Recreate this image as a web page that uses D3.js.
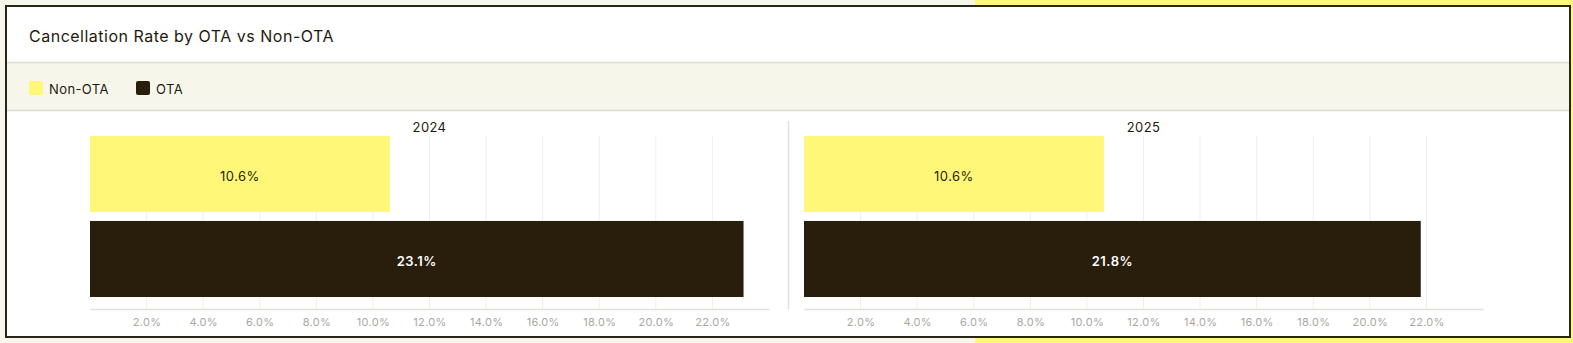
<!DOCTYPE html>
<html>
<head>
<meta charset="utf-8">
<script src="https://cdn.jsdelivr.net/npm/d3@7"></script>
<style>
  html, body { margin: 0; padding: 0; }
  body {
    width: 1573px; height: 343px; overflow: hidden;
    background: linear-gradient(to right, #f7f6ec 0, #f7f6ec 975px, #fff778 975px);
    font-family: Inter, "Noto Sans", sans-serif;
  }
  #chart { position: absolute; left: 0; top: 0; }
</style>
</head>
<body>
<div id="chart"></div>
<script>
const title = 'Cancellation Rate by OTA vs Non-OTA';
const years = ['2024', '2025'];
const categories = ['Non-OTA', 'OTA'];
const nonOtaRates = [10.6, 10.6];
const otaRates = [23.1, 21.8];
const xTicks = [2, 4, 6, 8, 10, 12, 14, 16, 18, 20, 22];

const colors = {
    'Non-OTA': '#fff778',
    'OTA': '#291e0c'
};
const labelColors = {
    'Non-OTA': '#291e0c',
    'OTA': '#ffffff'
};

const width = 1573;
const height = 343;

const svg = d3.select('#chart')
    .append('svg')
    .attr('width', width)
    .attr('height', height);

// card
svg.append('rect')
    .attr('x', 6).attr('y', 6)
    .attr('width', 1564).attr('height', 331)
    .attr('fill', '#ffffff')
    .attr('stroke', '#2a2416')
    .attr('stroke-width', 2);

// legend band
svg.append('rect')
    .attr('x', 7).attr('y', 62)
    .attr('width', 1562).attr('height', 48)
    .attr('fill', '#f7f6ea');
svg.append('line')
    .attr('x1', 7).attr('x2', 1569).attr('y1', 62.5).attr('y2', 62.5)
    .attr('stroke', '#dedcd3').attr('stroke-width', 1.5);
svg.append('line')
    .attr('x1', 7).attr('x2', 1569).attr('y1', 110.5).attr('y2', 110.5)
    .attr('stroke', '#dedcd3').attr('stroke-width', 1.5);

svg.append('text')
    .attr('x', 29).attr('y', 42)
    .style('font-size', '16px')
    .style('letter-spacing', '0.5px')
    .style('fill', '#1f1a10')
    .text(title);

const legend = svg.append('g').attr('transform', 'translate(29, 88)');
const legendX = [0, 107];
categories.forEach((c, i) => {
    const g = legend.append('g').attr('transform', `translate(${legendX[i]}, 0)`);
    g.append('rect')
        .attr('x', 0).attr('y', -7)
        .attr('width', 14).attr('height', 14)
        .attr('rx', 2)
        .attr('fill', colors[c]);
    g.append('text')
        .attr('x', 20).attr('y', 1)
        .attr('dy', '0.35em')
        .style('font-size', '13px')
        .style('letter-spacing', '0.4px')
        .style('fill', '#1f1a10')
        .text(c);
});

// panels
const plotLefts = [90, 804];
const plotWidth = 679;
const plotTop = 136;
const plotBottom = 309;

const x = d3.scaleLinear()
    .domain([0, 24])
    .range([0, plotWidth]);

const y = d3.scaleBand()
    .domain(categories)
    .range([0, 161])
    .paddingInner(0.105);

svg.append('line')
    .attr('x1', 788.5).attr('x2', 788.5)
    .attr('y1', 121).attr('y2', plotBottom)
    .attr('stroke', '#e2e0d8').attr('stroke-width', 1.5);

years.forEach((year, i) => {
    const values = [
        { category: 'Non-OTA', value: nonOtaRates[i] },
        { category: 'OTA', value: otaRates[i] }
    ];

    const g = svg.append('g')
        .attr('transform', `translate(${plotLefts[i]}, 0)`);

    g.append('text')
        .attr('x', plotWidth / 2).attr('y', 127)
        .attr('dy', '0.35em')
        .attr('text-anchor', 'middle')
        .style('font-size', '13px')
        .style('letter-spacing', '0.4px')
        .style('fill', '#1f1a10')
        .text(year);

    g.selectAll('.grid')
        .data(xTicks)
        .enter()
        .append('line')
        .attr('class', 'grid')
        .attr('x1', d => x(d)).attr('x2', d => x(d))
        .attr('y1', plotTop).attr('y2', plotBottom)
        .attr('stroke', '#efefec')
        .attr('stroke-width', 1);

    const bars = g.append('g').attr('transform', `translate(0, ${plotTop})`);

    bars.selectAll('rect')
        .data(values)
        .enter()
        .append('rect')
        .attr('x', 0)
        .attr('y', d => y(d.category))
        .attr('width', d => x(d.value))
        .attr('height', y.bandwidth())
        .attr('fill', d => colors[d.category]);

    bars.selectAll('text')
        .data(values)
        .enter()
        .append('text')
        .attr('x', d => x(d.value) / 2)
        .attr('y', d => y(d.category) + y.bandwidth() / 2 + 2)
        .attr('dy', '0.35em')
        .attr('text-anchor', 'middle')
        .style('font-size', '13px')
        .style('letter-spacing', '0.5px')
        .style('font-weight', d => d.category === 'OTA' ? '600' : '400')
        .style('fill', d => labelColors[d.category])
        .text(d => d.value.toFixed(1) + '%');

    const axis = g.append('g')
        .attr('transform', `translate(0, ${plotBottom})`)
        .call(d3.axisBottom(x)
            .tickValues(xTicks)
            .tickSize(0)
            .tickPadding(9)
            .tickFormat(d => d.toFixed(1) + '%'));

    axis.select('.domain')
        .attr('stroke', '#e0e0dc')
        .attr('stroke-width', 1.5);
    axis.selectAll('text')
        .style('font-family', 'Inter, "Noto Sans", sans-serif')
        .style('font-size', '11px')
        .style('letter-spacing', '0.3px')
        .style('fill', '#a9a8a2');
});
</script>
</body>
</html>
